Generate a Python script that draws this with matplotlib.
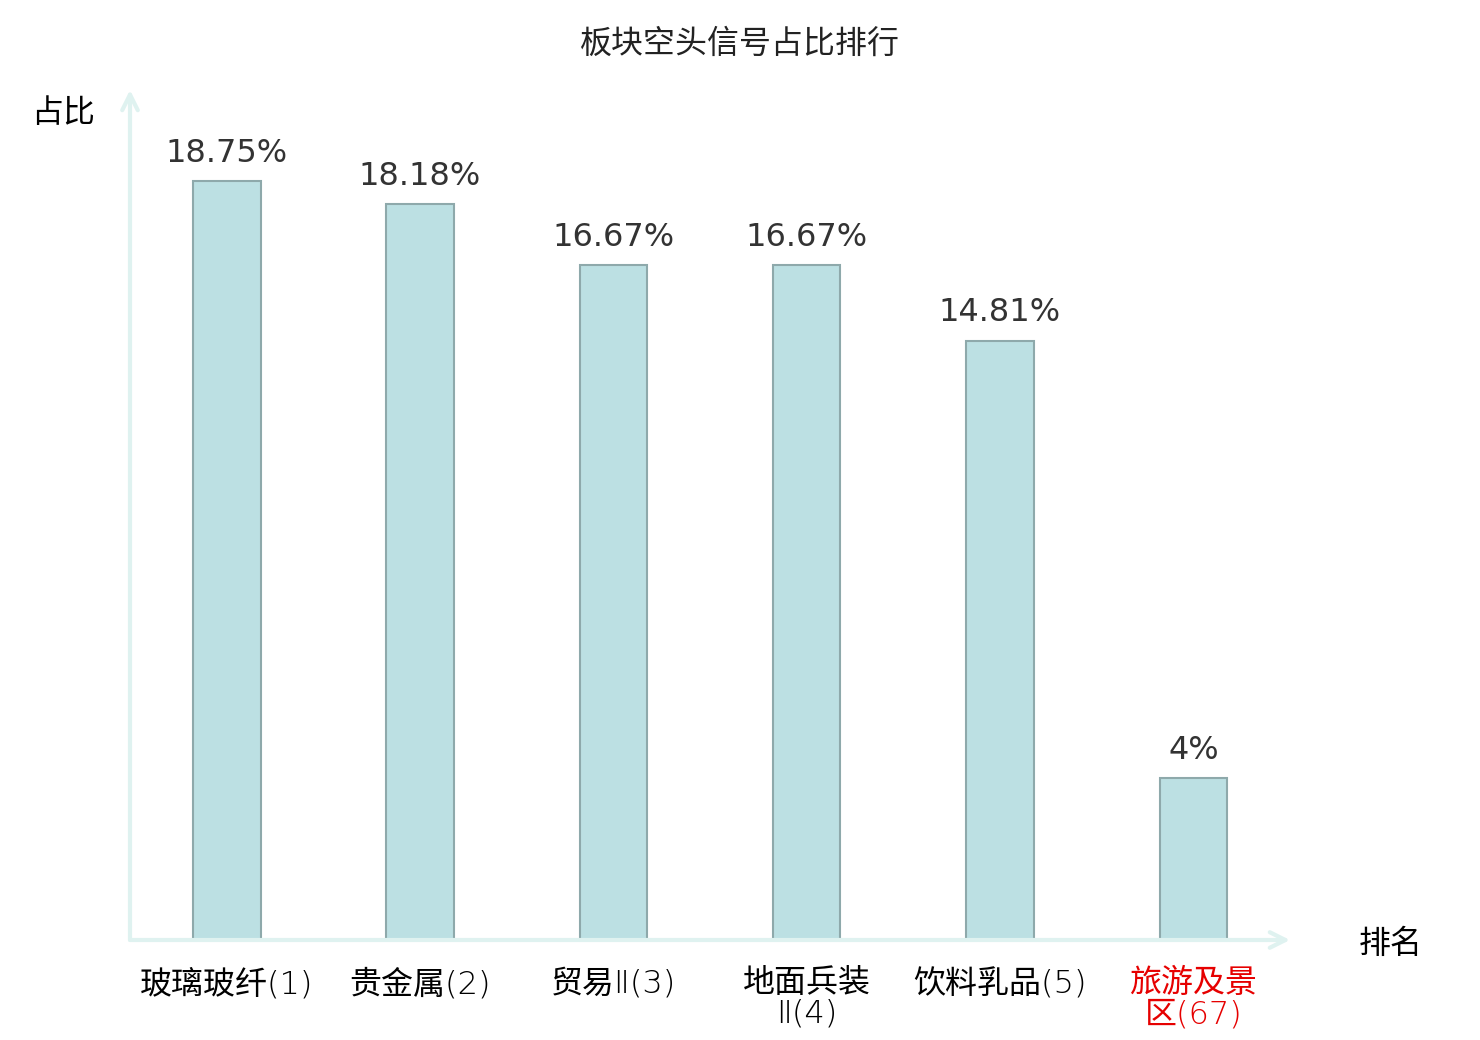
import matplotlib
matplotlib.use("Agg")
import matplotlib.pyplot as plt

plt.rcParams['font.family'] = ['Noto Sans CJK SC', 'DejaVu Sans']

categories = ["玻璃玻纤(1)", "贵金属(2)", "贸易Ⅱ(3)", "地面兵装\nⅡ(4)", "饮料乳品(5)", "旅游及景\n区(67)"]
values = [18.75, 18.18, 16.67, 16.67, 14.81, 4]
value_labels = ["18.75%", "18.18%", "16.67%", "16.67%", "14.81%", "4%"]
label_colors = ["#000000", "#000000", "#000000", "#000000", "#000000", "#e60000"]

W, H = 1480, 1040
fig = plt.figure(figsize=(W / 100, H / 100), dpi=100)
left, right, bottom, top = 130, 1290, 940, 90
ax = fig.add_axes([left / W, 1 - bottom / H, (right - left) / W, (bottom - top) / H])

x = list(range(len(categories)))
ax.bar(x, values, width=0.35, color="#bce0e3", edgecolor="#8ea9ab", linewidth=1.5, zorder=3)
for xi, v, lab in zip(x, values, value_labels):
    ax.annotate(lab, (xi, v), xytext=(0, 9), textcoords="offset points",
                ha="center", va="bottom", fontsize=23, color="#333333",
                family=["DejaVu Sans"])

ax.set_xlim(-0.5, 5.5)
ax.set_ylim(0, 21)
for s in ax.spines.values():
    s.set_visible(False)
ax.set_yticks([])
ax.set_xticks(x)
ax.set_xticklabels(categories, fontsize=23, linespacing=1.05,
                   family=['DejaVu Sans', 'Noto Sans CJK SC'], fontweight=200)
for t, c in zip(ax.get_xticklabels(), label_colors):
    t.set_color(c)
ax.tick_params(axis="x", length=0, pad=20)

axis_color = "#dff2f0"
ax.annotate("", xy=(1.0, 0), xytext=(0, 0), xycoords="axes fraction",
            arrowprops=dict(arrowstyle="->", lw=3, color=axis_color, mutation_scale=28,
                            shrinkA=0, shrinkB=0), annotation_clip=False)
ax.annotate("", xy=(0, 1.0), xytext=(0, 0), xycoords="axes fraction",
            arrowprops=dict(arrowstyle="->", lw=3, color=axis_color, mutation_scale=28,
                            shrinkA=0, shrinkB=0), annotation_clip=False)

fig.text(740 / W, 1 - 44 / H, "板块空头信号占比排行", ha="center", va="center", fontsize=23, color="#222222")
fig.text(63 / W, 1 - 113 / H, "占比", ha="center", va="center", fontsize=23, color="#000000")
fig.text(1391 / W, 1 - 944 / H, "排名", ha="center", va="center", fontsize=23, color="#000000")

fig.savefig("out.png", dpi=100)
